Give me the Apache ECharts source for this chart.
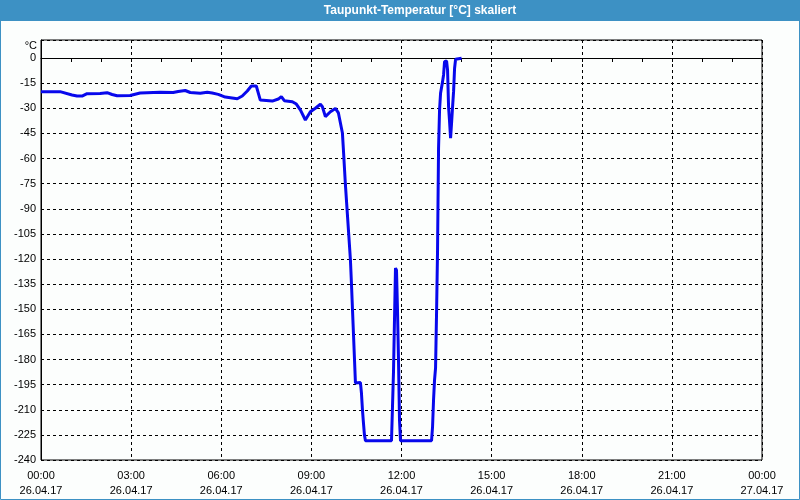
<!DOCTYPE html>
<html>
<head>
<meta charset="utf-8">
<script src="https://cdn.jsdelivr.net/npm/echarts@6/dist/echarts.min.js"></script>
<style>html,body{margin:0;padding:0;background:#fcfefd;}#c{width:800px;height:500px;}</style>
</head>
<body>
<div id="c"></div>
<script>
// time in minutes since 26.04.17 00:00
const times = [0,38,62,72,82,92,118,132,142,152,178,198,238,264,274,288,298,318,332,342,354,368,392,402,412,420,430,438,462,474,480,486,502,510,518,528,538,548,558,562,568,578,588,594,598,602,604,608,612,616,618,620,622,624,626,628,638,640,642,644,646,648,700,702,704,706,708,710,712,714,716,718,780,782,784,786,788,790,792,794,796,798,802,804,806,810,812,814,816,818,820,822,824,826,828,840];
const values = [-20.1,-20.1,-22.1,-22.7,-22.7,-21.3,-21.2,-20.7,-21.8,-22.5,-22.4,-20.9,-20.5,-20.6,-20.0,-19.4,-20.6,-21.1,-20.5,-20.9,-21.7,-23.3,-24.3,-22.7,-19.7,-16.7,-16.7,-25.1,-25.7,-24.5,-23.0,-25.5,-26.1,-27.5,-31.0,-37.0,-32.1,-30.0,-27.6,-29.1,-35.0,-32.1,-30.1,-32.8,-38.8,-44.8,-54.9,-75.8,-93.7,-111.6,-120.6,-134.3,-149.3,-164.2,-179.1,-194.0,-193.8,-200.0,-210.1,-217.9,-225.1,-228.5,-228.5,-208.4,-187.5,-156.4,-125.4,-126.6,-150.4,-180.3,-216.1,-228.5,-228.5,-220.3,-204.2,-192.2,-185.1,-152.2,-114.6,-53.7,-31.0,-21.1,-14.1,-10.1,-2.2,-1.8,-7.2,-29.1,-38.0,-47.8,-38.8,-29.1,-20.1,-6.1,-0.8,-0.2];
const xTickTimes = ['00:00','03:00','06:00','09:00','12:00','15:00','18:00','21:00','00:00'];
const xTickDates = ['26.04.17','26.04.17','26.04.17','26.04.17','26.04.17','26.04.17','26.04.17','26.04.17','27.04.17'];
const titleText = 'Taupunkt-Temperatur [°C] skaliert';
const unitText = '°C';

const data = times.map((t, i) => [t, values[i]]);
const chart = echarts.init(document.getElementById('c'));
const font = 'Liberation Sans';
chart.setOption({
  backgroundColor: '#fcfefd',
  animation: false,
  graphic: [
    {type: 'rect', z: -10, shape: {x: 0.5, y: 0.5, width: 799, height: 499}, style: {fill: 'none', stroke: '#3d91c4', lineWidth: 1}},
    {type: 'rect', z: -5, shape: {x: 0, y: 0, width: 800, height: 21}, style: {fill: '#3d91c4'}},
    {type: 'text', x: 420, y: 11, style: {text: titleText, fill: '#fff', font: 'bold 12px "Liberation Sans"', textAlign: 'center', textVerticalAlign: 'middle'}},
    {type: 'text', x: 37, y: 46, style: {text: unitText, fill: '#000', font: '11px "Liberation Sans"', textAlign: 'right', textVerticalAlign: 'middle'}}
  ],
  grid: {left: 41, right: 38, top: 40, bottom: 40, show: true, borderColor: '#000', borderWidth: 1, backgroundColor: 'transparent'},
  xAxis: {
    type: 'value', min: 0, max: 1440, interval: 180,
    axisLine: {show: true, lineStyle: {color: '#000', width: 1}},
    axisTick: {show: true, length: 4, lineStyle: {color: '#000'}},
    minorTick: {show: true, splitNumber: 3, length: 4, lineStyle: {color: '#000'}},
    splitLine: {show: true, lineStyle: {color: '#000', type: [3, 3], width: 1}},
    axisLabel: {
      color: '#000', fontFamily: font, fontSize: 11, margin: 8, lineHeight: 15,
      formatter: v => { const i = Math.round(v / 180); return xTickTimes[i] + '\n' + xTickDates[i]; }
    }
  },
  yAxis: {
    type: 'value', min: -240, max: 10.75, interval: 15,
    axisLine: {show: true, lineStyle: {color: '#000', width: 1}},
    axisTick: {show: false},
    splitLine: {show: true, lineStyle: {color: '#000', type: [3, 3], width: 1}},
    axisLabel: {
      color: '#000', fontFamily: font, fontSize: 11, margin: 5, showMaxLabel: false,
      formatter: v => (Math.abs(v % 15) < 1e-6 ? String(v) : '')
    }
  },
  series: [{
    type: 'line', data: data, showSymbol: false, symbol: 'none',
    lineStyle: {color: '#0808ec', width: 3}, z: 5
  }]
});
</script>
</body>
</html>
